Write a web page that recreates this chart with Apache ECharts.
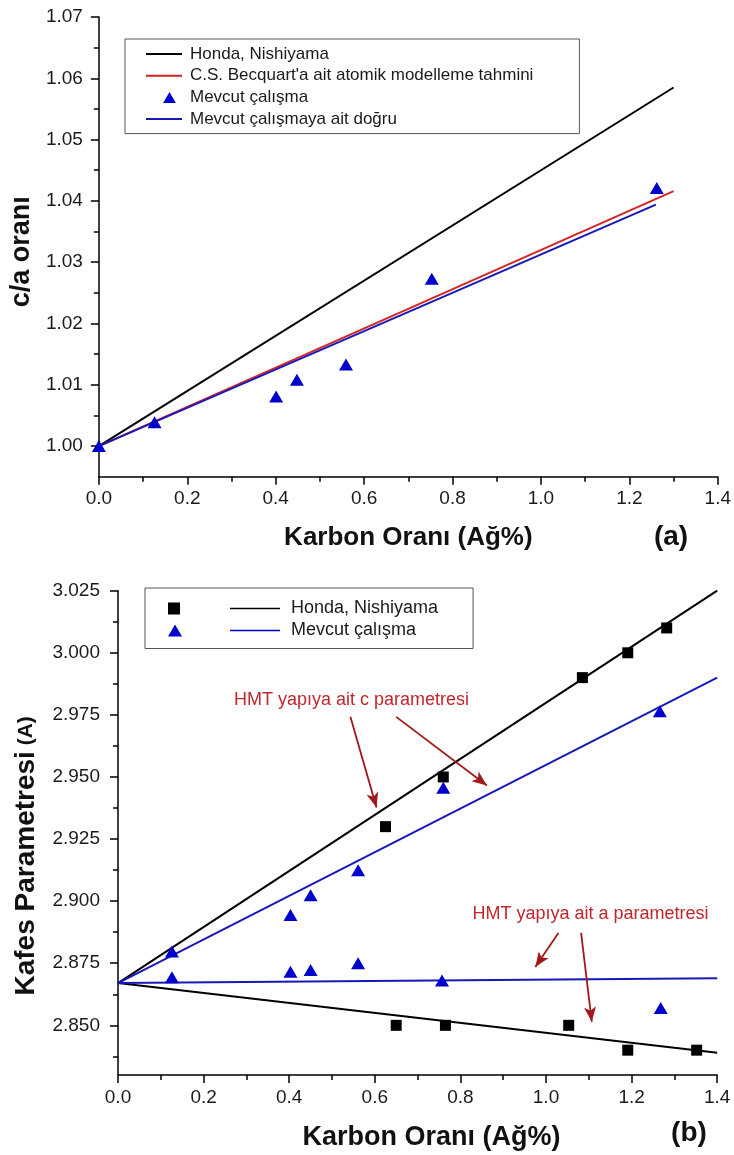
<!DOCTYPE html>
<html><head><meta charset="utf-8">
<script src="https://cdn.jsdelivr.net/npm/echarts@6/dist/echarts.min.js"></script>
<style>html,body{margin:0;padding:0;background:#fff}#c{width:734px;height:1155px}</style>
</head><body><div id="c"></div>
<script>
// ---------- Panel (a): c/a oranı ----------
const aXTicks = [0, 0.2, 0.4, 0.6, 0.8, 1.0, 1.2, 1.4];
const aYTicks = [1.00, 1.01, 1.02, 1.03, 1.04, 1.05, 1.06, 1.07];
const aYMinor = [1.005, 1.015, 1.025, 1.035, 1.045, 1.055, 1.065];
const aHondaLine = [[0, 1.000], [1.30, 1.0585]];
const aBecquartLine = [[0, 1.000], [1.30, 1.0416]];
const aMevcutLine = [[0, 1.000], [1.26, 1.0394]];
const aMevcutPts = [[0, 1.000], [0.126, 1.0039], [0.401, 1.0081], [0.448, 1.0108], [0.559, 1.0133], [0.753, 1.0273], [1.262, 1.0421]];

// ---------- Panel (b): Kafes parametresi ----------
const bXTicks = [0, 0.2, 0.4, 0.6, 0.8, 1.0, 1.2, 1.4];
const bYTicks = [2.850, 2.875, 2.900, 2.925, 2.950, 2.975, 3.000, 3.025];
const bYMinor = [2.8375, 2.8625, 2.8875, 2.9125, 2.9375, 2.9625, 2.9875, 3.0125];
const bHondaPts = [[0.625, 2.930], [0.760, 2.950], [1.085, 2.990], [1.191, 3.000], [1.282, 3.010],
                   [0.650, 2.850], [0.765, 2.850], [1.053, 2.850], [1.191, 2.840], [1.352, 2.840]];
const bMevcutPts = [[0.126, 2.8797], [0.403, 2.8944], [0.450, 2.9024], [0.561, 2.9124], [0.760, 2.9457], [1.266, 2.9765],
                    [0.126, 2.8694], [0.403, 2.8716], [0.450, 2.8723], [0.561, 2.8750], [0.757, 2.8680], [1.268, 2.8570]];
const bHondaC = [[0, 2.867], [1.4, 3.025]];
const bHondaA = [[0, 2.867], [1.4, 2.839]];
const bMevcutC = [[0, 2.867], [1.4, 2.990]];
const bMevcutA = [[0, 2.867], [1.4, 2.869]];
// annotations (data coordinates)
const bArrows = [
  [[0.543, 2.9742], [0.604, 2.9377]],
  [[0.650, 2.9742], [0.862, 2.9466]],
  [[1.029, 2.8872], [0.975, 2.8735]],
  [[1.082, 2.8872], [1.107, 2.8514]]
];
const bNotes = [
  {text: 'HMT yapıya ait c parametresi', at: [0.5455, 2.9811]},
  {text: 'HMT yapıya ait a parametresi', at: [1.104, 2.8949]}
];

const FONT = "'Liberation Sans', Arial, sans-serif";
const BLACK = '#000';
const RED = '#d42525';
const BLUE = '#1818b8';
const TRI = '#0000cc';
const NOTE = '#c1272d';
const ARROW = '#a01818';

const linePath = 'path://M0,0H36V2H0Z';
const triPath = 'path://M-12,12L-12,12Z M0,12L7,0L14,12Z';
const sqLegend = 'path://M0,0H12V12H0Z M62,5.3H112V6.7H62Z';
const triLegend = 'path://M0,12L7,0L14,12Z M62,5.3H112V6.7H62Z';

function xAxisCfg(grid, nameGap, namePad) {
  return {
    type: 'value', gridIndex: grid, min: 0, max: 1.4, interval: 0.2,
    axisLine: {lineStyle: {color: BLACK, width: 1.5}},
    axisTick: {length: 8, lineStyle: {color: BLACK, width: 1.5}},
    minorTick: {show: true, splitNumber: 2, length: 5, lineStyle: {color: BLACK, width: 1.5}},
    splitLine: {show: false},
    axisLabel: {fontSize: 19, fontFamily: FONT, color: '#1a1a1a', margin: 13, formatter: v => v.toFixed(1)},
    name: 'Karbon Oranı (Ağ%)', nameLocation: 'middle', nameGap: nameGap,
    nameTextStyle: {fontSize: grid === 0 ? 26 : 27, fontWeight: 'bold', fontFamily: FONT, color: '#111', padding: namePad}
  };
}
function yMajor(grid, min, max, ticks, dec, margin, name, gap, pad, rich) {
  return {
    type: 'value', gridIndex: grid, min: min, max: max,
    axisLine: {lineStyle: {color: BLACK, width: 1.5}},
    axisTick: {length: 8, customValues: ticks, lineStyle: {color: BLACK, width: 1.5}},
    splitLine: {show: false},
    axisLabel: {customValues: ticks, fontSize: 19, fontFamily: FONT, color: '#1a1a1a', margin: margin, formatter: v => v.toFixed(dec)},
    name: name, nameLocation: 'middle', nameGap: gap,
    nameTextStyle: Object.assign({fontSize: 27, fontWeight: 'bold', fontFamily: FONT, color: '#111', padding: pad}, rich ? {rich: rich} : {})
  };
}
function yMinor(grid, min, max, ticks) {
  return {
    type: 'value', gridIndex: grid, min: min, max: max, position: 'left',
    axisLine: {show: false}, splitLine: {show: false}, axisLabel: {show: false},
    axisTick: {length: 5, customValues: ticks, lineStyle: {color: BLACK, width: 1.5}}
  };
}

const option = {
  animation: false,
  backgroundColor: '#fff',
  grid: [
    {left: 98, top: 17, width: 625, height: 459.7},
    {left: 118, top: 590.7, width: 599.2, height: 484.3}
  ],
  xAxis: [xAxisCfg(0, 48, [0, 0, 0, 0]), xAxisCfg(1, 49, [0, 0, 0, 28])],
  yAxis: [
    yMajor(0, 0.995, 1.07, aYTicks, 2, 16, 'c/a oranı', 55, [0, 10, 0, 0]),
    yMinor(0, 0.995, 1.07, aYMinor),
    yMajor(1, 2.83, 3.025, bYTicks, 3, 18, '{b|Kafes Parametresi}{n| (A)}', 78, [0, 46, 0, 0],
      {b: {fontSize: 28, fontWeight: 'bold', fontFamily: FONT, color: '#111'},
       n: {fontSize: 21, fontFamily: FONT, color: '#111'}}),
    yMinor(1, 2.83, 3.025, bYMinor)
  ],
  legend: [
    {
      left: 125, top: 39, orient: 'vertical', padding: [6.5, 46, 6, 21], itemGap: 4.7,
      itemWidth: 36, itemHeight: 11, borderColor: '#555', borderWidth: 1, selectedMode: false,
      textStyle: {fontSize: 17, fontFamily: FONT, color: '#1a1a1a', lineHeight: 17, padding: [0, 0, 0, 3]},
      itemStyle: {borderWidth: 0},
      data: [
        {name: 'Honda, Nishiyama', icon: linePath},
        {name: "C.S. Becquart'a ait atomik modelleme tahmini", icon: linePath},
        {name: 'Mevcut çalışma', icon: triPath},
        {name: 'Mevcut çalışmaya ait doğru', icon: linePath}
      ]
    },
    {
      left: 145, top: 588, orient: 'vertical', padding: [11.5, 35, 9, 23], itemGap: 4,
      itemWidth: 112, itemHeight: 12, borderColor: '#555', borderWidth: 1, selectedMode: false,
      textStyle: {fontSize: 18, fontFamily: FONT, color: '#1a1a1a', lineHeight: 18, padding: [0, 0, 0, 6]},
      itemStyle: {borderWidth: 0},
      data: [
        {name: 'Honda, Nishiyama', icon: sqLegend},
        {name: 'Mevcut çalışma', icon: triLegend}
      ]
    }
  ],
  series: [
    {name: 'Honda, Nishiyama', type: 'line', xAxisIndex: 0, yAxisIndex: 0, data: aHondaLine, symbol: 'none',
     lineStyle: {color: BLACK, width: 2}, itemStyle: {color: BLACK}, z: 2},
    {name: "C.S. Becquart'a ait atomik modelleme tahmini", type: 'line', xAxisIndex: 0, yAxisIndex: 0, data: aBecquartLine, symbol: 'none',
     lineStyle: {color: RED, width: 2}, itemStyle: {color: RED}, z: 2},
    {name: 'Mevcut çalışmaya ait doğru', type: 'line', xAxisIndex: 0, yAxisIndex: 0, data: aMevcutLine, symbol: 'none',
     lineStyle: {color: BLUE, width: 2}, itemStyle: {color: BLUE}, z: 2},
    {name: 'Mevcut çalışma', type: 'scatter', xAxisIndex: 0, yAxisIndex: 0, data: aMevcutPts, symbol: 'triangle',
     symbolSize: [14, 12], itemStyle: {color: TRI, opacity: 1}, clip: false, z: 3},

    {name: 'Honda c', type: 'line', xAxisIndex: 1, yAxisIndex: 2, data: bHondaC, symbol: 'none',
     lineStyle: {color: BLACK, width: 2}, z: 2,
     markLine: {silent: true, symbol: ['none', 'arrow'], symbolSize: [9, 15], animation: false,
       label: {show: false}, lineStyle: {color: ARROW, width: 1.8, type: 'solid'},
       emphasis: {disabled: true},
       data: bArrows.map(a => [{coord: a[0]}, {coord: a[1]}])}},
    {name: 'Honda a', type: 'line', xAxisIndex: 1, yAxisIndex: 2, data: bHondaA, symbol: 'none',
     lineStyle: {color: BLACK, width: 2}, z: 2},
    {name: 'Mevcut c', type: 'line', xAxisIndex: 1, yAxisIndex: 2, data: bMevcutC, symbol: 'none',
     lineStyle: {color: BLUE, width: 2}, z: 2},
    {name: 'Mevcut a', type: 'line', xAxisIndex: 1, yAxisIndex: 2, data: bMevcutA, symbol: 'none',
     lineStyle: {color: BLUE, width: 2}, z: 2},
    {name: 'Honda, Nishiyama', type: 'scatter', xAxisIndex: 1, yAxisIndex: 2, data: bHondaPts, symbol: 'rect',
     symbolSize: 11, itemStyle: {color: BLACK, opacity: 1}, z: 3},
    {name: 'Mevcut çalışma', type: 'scatter', xAxisIndex: 1, yAxisIndex: 2, data: bMevcutPts, symbol: 'triangle',
     symbolSize: [14, 12], itemStyle: {color: TRI, opacity: 1}, z: 3}
  ]
};

const chart = echarts.init(document.getElementById('c'), null, {renderer: 'canvas'});
chart.setOption(option);

const graphics = bNotes.map(n => {
  const p = chart.convertToPixel({xAxisIndex: 1, yAxisIndex: 2}, n.at);
  return {type: 'text', x: p[0], y: p[1], silent: true,
    style: {text: n.text, fill: NOTE, fontSize: 18, fontFamily: FONT, align: 'center', verticalAlign: 'middle'}};
});
graphics.push({type: 'text', x: 671, y: 537, style: {text: '(a)', fill: '#111', fontSize: 28, fontWeight: 'bold', fontFamily: FONT, align: 'center', verticalAlign: 'middle'}});
graphics.push({type: 'text', x: 689, y: 1133, style: {text: '(b)', fill: '#111', fontSize: 28, fontWeight: 'bold', fontFamily: FONT, align: 'center', verticalAlign: 'middle'}});
chart.setOption({graphic: graphics});
</script>
</body></html>
